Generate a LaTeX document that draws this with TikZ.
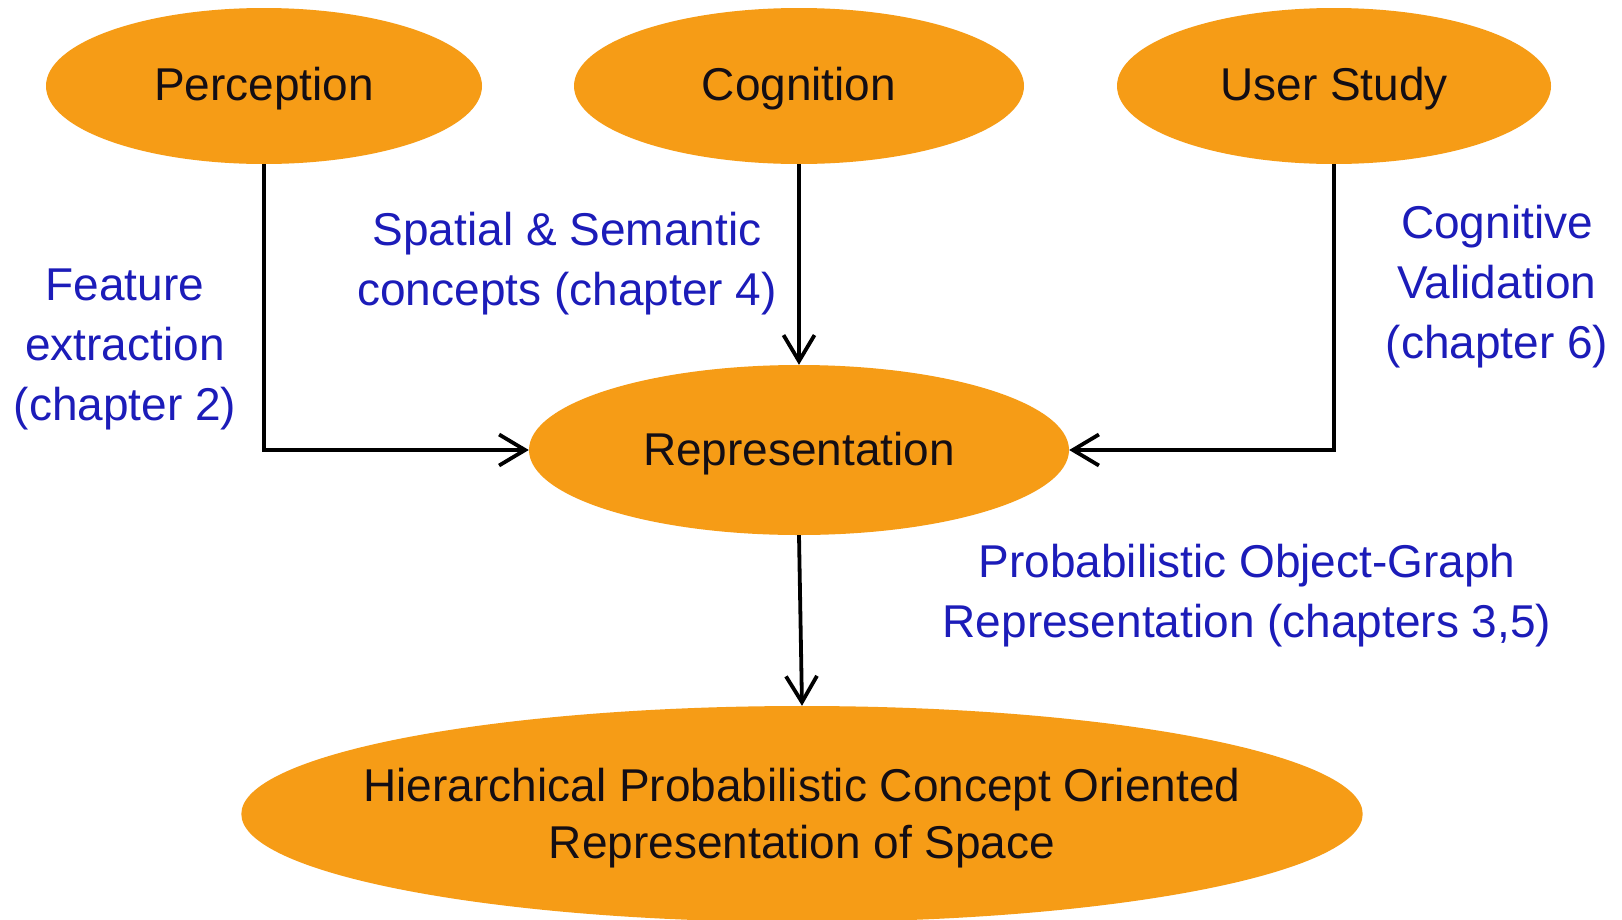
\documentclass[tikz,border=0pt]{standalone}
\usepackage{fontspec}
\setmainfont{Liberation Sans}
\usetikzlibrary{shapes.geometric,arrows.meta}

\definecolor{blobfill}{RGB}{246,156,22}
\definecolor{notecol}{RGB}{28,28,185}
\definecolor{inkcol}{RGB}{20,14,20}

% lower a label a little without changing its box
\newcommand{\sinklabel}[2]{\raisebox{-#1}[\height][\depth]{#2}}

\tikzset{
  blob/.style={ellipse, fill=blobfill, draw=none, inner sep=0pt,
    text=inkcol, align=center,
    font=\fontsize{46}{57}\selectfont},
  note/.style={text=notecol, align=center, inner sep=0pt,
    font=\fontsize{46}{60}\selectfont},
  flow/.style={line width=3.8pt, draw=black,
    -{Straight Barb[length=26pt,width=31pt,line width=3.8pt]}},
}

\begin{document}
\begin{tikzpicture}[x=1pt,y=-1pt]
  \useasboundingbox[fill=white] (0,0) rectangle (1622,919);

  % top row of sources
  \node[blob, minimum width=436pt, minimum height=156pt] (perc) at (264,86) {\sinklabel{3pt}{Perception}};
  \node[blob, minimum width=450pt, minimum height=156pt] (cog) at (799,86) {\sinklabel{3pt}{Cognition}};
  \node[blob, minimum width=434pt, minimum height=156pt] (user) at (1334,86) {\sinklabel{3pt}{User Study}};

  % central representation and the final result
  \node[blob, minimum width=540pt, minimum height=170pt] (rep) at (799,450) {\sinklabel{4pt}{Representation}};
  \node[blob, inner xsep=-42pt, minimum width=1116pt, minimum height=216pt] (hpc) at (802,814)
    {\sinklabel{5pt}{\begin{tabular}{@{}c@{}}Hierarchical Probabilistic Concept Oriented\\Representation of Space\end{tabular}}};

  % connectors
  \draw[flow] (perc.south) |- (rep.west);
  \draw[flow] (cog.south) -- (rep.north);
  \draw[flow] (user.south) |- (rep.east);
  \draw[flow] (rep.south) -- (hpc.north);

  % chapter notes
  \node[note] (nfeat) at (125,349) {Feature\\extraction\\(chapter 2)};
  \node[note] (nsem) at (567,264) {Spatial \& Semantic\\concepts (chapter 4)};
  \node[note] (nval) at (1497,287) {Cognitive\\Validation\\(chapter 6)};
  \node[note] (npog) at (1247,596) {Probabilistic Object-Graph\\Representation (chapters 3,5)};
\end{tikzpicture}
\end{document}
